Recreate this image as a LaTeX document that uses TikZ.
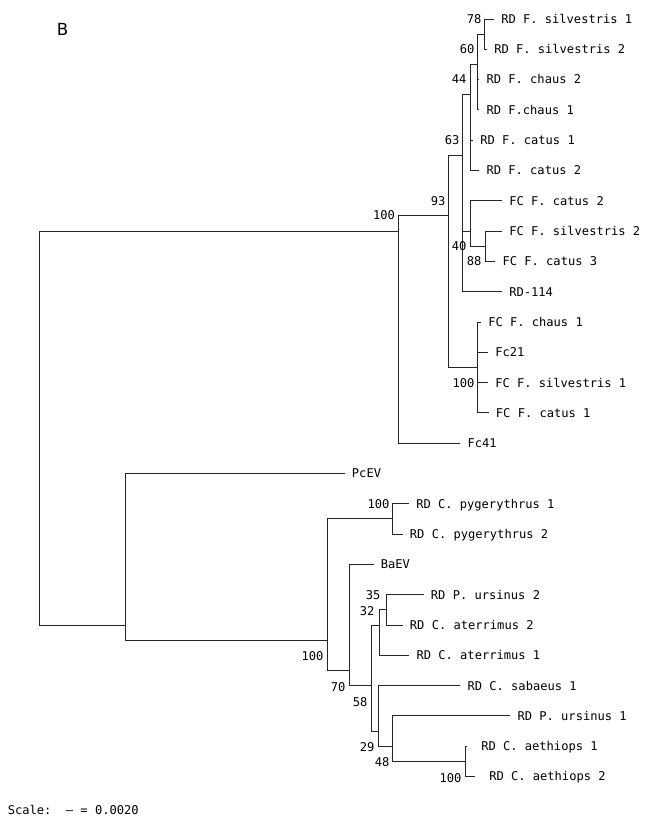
\documentclass[tikz,border=0pt]{standalone}
\usepackage{fontspec}
\newfontfamily\labfont{DejaVu Sans Mono}
\newfontfamily\bfont{DejaVu Sans}
\begin{document}
\begin{tikzpicture}[x=0.75pt,y=-0.75pt,
  br/.style={draw=black!85, line width=0.7pt},
  leaf/.style={anchor=west, inner xsep=5.25pt, inner ysep=0pt, text height=6.6pt, text depth=0pt, font=\labfont\fontsize{9.06}{11}\selectfont},
  wideleaf/.style={leaf, inner xsep=10.5pt},
  bs/.style={anchor=east, inner sep=0pt, text height=6.6pt, text depth=0pt, font=\labfont\fontsize{9.06}{11}\selectfont}]
\useasboundingbox (0,0) rectangle (645,827);

% panel letter and scale
\node[anchor=center, inner sep=0pt, font=\bfont\fontsize{12.5}{14}\selectfont] (panel) at (62.5,29) {B};
\node[anchor=west, inner sep=0pt, text height=6.6pt, text depth=0pt, font=\labfont\fontsize{9.06}{11}\selectfont] (scale) at (7.5,810) {Scale:\ \ – = 0.0020};

% leaves
\node[leaf] (l0) at (494,19) {RD F. silvestris 1};
\node[leaf] (l1) at (487,49.3) {RD F. silvestris 2};
\node[leaf] (l2) at (479.3,79.6) {RD F. chaus 2};
\node[leaf] (l3) at (479.3,109.9) {RD F.chaus 1};
\node[leaf] (l4) at (473,140.2) {RD F. catus 1};
\node[leaf] (l5) at (479.3,170.5) {RD F. catus 2};
\node[leaf] (l6) at (502,200.8) {FC F. catus 2};
\node[leaf] (l7) at (502,231.1) {FC F. silvestris 2};
\node[leaf] (l8) at (495.3,261.4) {FC F. catus 3};
\node[leaf] (l9) at (502,291.7) {RD-114};
\node[leaf] (l10) at (481,322) {FC F. chaus 1};
\node[leaf] (l11) at (488,352.3) {Fc21};
\node[leaf] (l12) at (488,382.6) {FC F. silvestris 1};
\node[leaf] (l13) at (488.7,412.9) {FC F. catus 1};
\node[leaf] (l14) at (460.3,443.2) {Fc41};
\node[leaf] (l15) at (344.7,473.5) {PcEV};
\node[leaf] (l16) at (409,503.8) {RD C. pygerythrus 1};
\node[leaf] (l17) at (402.7,534.1) {RD C. pygerythrus 2};
\node[leaf] (l18) at (373.5,564.4) {BaEV};
\node[leaf] (l19) at (423.7,594.7) {RD P. ursinus 2};
\node[leaf] (l20) at (402.7,625) {RD C. aterrimus 2};
\node[leaf] (l21) at (409.3,655.3) {RD C. aterrimus 1};
\node[leaf] (l22) at (460.3,685.6) {RD C. sabaeus 1};
\node[leaf] (l23) at (510.3,715.9) {RD P. ursinus 1};
\node[wideleaf] (l24) at (467,746.2) {RD C. aethiops 1};
\node[wideleaf] (l25) at (475,776.5) {RD C. aethiops 2};

% internal nodes
\coordinate (n78) at (484,34.15);
\coordinate (n60) at (477,64.45);
\coordinate (n44) at (470,94.75);
\coordinate (n88) at (485,246.25);
\coordinate (n40) at (470,231.1);
\coordinate (n63) at (462.7,155.35);
\coordinate (nfc) at (477.3,367.45);
\coordinate (n93) at (448.3,215.95);
\coordinate (nup) at (398.5,231.1);
\coordinate (root) at (39.5,397.75);
\coordinate (nlow) at (125.7,625);
\coordinate (nbig) at (327.7,640.15);
\coordinate (npyg) at (392,518.95);
\coordinate (n70) at (349.3,670.45);
\coordinate (n58) at (371.7,685.6);
\coordinate (n32) at (379,625);
\coordinate (n35) at (386,609.85);
\coordinate (n29) at (378.3,731);
\coordinate (n48) at (392.7,746.2);
\coordinate (naeth) at (465,761.35);

% branches
\draw[br] (n78) |- (l0.west);
\draw[br] (n78) |- (l1.west);
\draw[br] (n60) |- (n78);
\draw[br] (n60) |- (l2.west);
\draw[br] (n60) |- (l3.west);
\draw[br] (n44) |- (n60);
\draw[br] (n44) |- (l4.west);
\draw[br] (n44) |- (l5.west);
\draw[br] (n88) |- (l7.west);
\draw[br] (n88) |- (l8.west);
\draw[br] (n40) |- (l6.west);
\draw[br] (n40) |- (n88);
\draw[br] (n63) |- (n44);
\draw[br] (n63) |- (n40);
\draw[br] (n63) |- (l9.west);
\draw[br] (nfc) |- (l10.west);
\draw[br] (nfc) |- (l11.west);
\draw[br] (nfc) |- (l12.west);
\draw[br] (nfc) |- (l13.west);
\draw[br] (n93) |- (n63);
\draw[br] (n93) |- (nfc);
\draw[br] (nup) |- (n93);
\draw[br] (nup) |- (l14.west);
\draw[br] (root) |- (nup);
\draw[br] (root) |- (nlow);
\draw[br] (nlow) |- (l15.west);
\draw[br] (nlow) |- (nbig);
\draw[br] (nbig) |- (npyg);
\draw[br] (nbig) |- (n70);
\draw[br] (npyg) |- (l16.west);
\draw[br] (npyg) |- (l17.west);
\draw[br] (n70) |- (l18.west);
\draw[br] (n70) |- (n58);
\draw[br] (n58) |- (n32);
\draw[br] (n58) |- (n29);
\draw[br] (n32) |- (n35);
\draw[br] (n32) |- (l21.west);
\draw[br] (n35) |- (l19.west);
\draw[br] (n35) |- (l20.west);
\draw[br] (n29) |- (l22.west);
\draw[br] (n29) |- (n48);
\draw[br] (n48) |- (l23.west);
\draw[br] (n48) |- (naeth);
\draw[br] (naeth) |- (l24.west);
\draw[br] (naeth) |- (l25.west);

% bootstrap values
\node[bs] (b78) at (481.7,19) {78};
\node[bs] (b60) at (474.7,49.3) {60};
\node[bs] (b44) at (466.7,79.6) {44};
\node[bs] (b63) at (459.7,140.2) {63};
\node[bs] (b93) at (445.7,200.8) {93};
\node[bs] (bup) at (395.2,215) {100};
\node[bs] (b40) at (466.7,246.3) {40};
\node[bs] (b88) at (481.7,261.4) {88};
\node[bs] (bfc) at (474.7,382.6) {100};
\node[bs] (bpyg) at (389.7,504.5) {100};
\node[bs] (b35) at (380.7,595) {35};
\node[bs] (b32) at (374.7,611) {32};
\node[bs] (bbig) at (323.7,656) {100};
\node[bs] (b70) at (345.7,687) {70};
\node[bs] (b58) at (367.7,701.7) {58};
\node[bs] (b29) at (374.7,747.5) {29};
\node[bs] (b48) at (389.7,762) {48};
\node[bs] (baeth) at (461.7,778) {100};
\end{tikzpicture}
\end{document}
